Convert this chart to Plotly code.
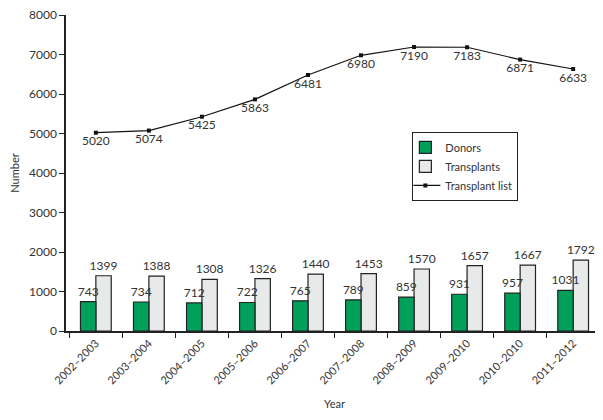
import plotly.graph_objects as go

years = ["2002–2003", "2003–2004", "2004–2005", "2005–2006", "2006–2007",
         "2007–2008", "2008–2009", "2009–2010", "2010–2010", "2011–2012"]
donors = [743, 734, 712, 722, 765, 789, 859, 931, 957, 1031]
transplants = [1399, 1388, 1308, 1326, 1440, 1453, 1570, 1657, 1667, 1792]
transplant_list = [5020, 5074, 5425, 5863, 6481, 6980, 7190, 7183, 6871, 6633]

font = "Lato, Open Sans, sans-serif"
fig = go.Figure()
fig.add_trace(go.Bar(x=years, y=transplants, name="Transplants", legendrank=2,
                     width=0.29, offset=0.0,
                     marker=dict(color="#e8e9e9", line=dict(color="#222", width=1.2)),
                     text=transplants, textposition="outside", cliponaxis=False, constraintext="none",
                     textfont=dict(size=12, color="#333")))
fig.add_trace(go.Bar(x=years, y=donors, name="Donors", legendrank=1,
                     width=0.29, offset=-0.29,
                     marker=dict(color="#00a05a", line=dict(color="#222", width=1.2)),
                     text=donors, textposition="outside", cliponaxis=False, constraintext="none",
                     textfont=dict(size=12, color="#333")))
fig.add_trace(go.Scatter(x=years, y=transplant_list, name="Transplant list", legendrank=3,
                         mode="lines+markers+text",
                         line=dict(color="#111", width=1.2), marker=dict(symbol="square", size=4, color="#111"),
                         text=transplant_list, textposition="bottom center", cliponaxis=False,
                         textfont=dict(size=12, color="#333")))
fig.update_layout(
    width=595, height=412, paper_bgcolor="white", plot_bgcolor="white",
    margin=dict(l=58, r=0, t=7, b=89, autoexpand=False),
    barmode="overlay",
    font=dict(family=font, size=12, color="#333"),
    legend=dict(x=0.645, y=0.63, xanchor="left", yanchor="top", bordercolor="#222", borderwidth=1,
                bgcolor="white", font=dict(size=11), tracegroupgap=0, itemwidth=30,
                indentation=-8),
    xaxis=dict(showline=True, linecolor="#222", linewidth=1.5, ticks="outside", tickson="boundaries",
               ticklen=5, tickcolor="#222", tickangle=-45, tickfont=dict(size=11), automargin=False,
               title=dict(text="Year", font=dict(size=11))),
    yaxis=dict(range=[0, 8000], dtick=1000, showline=True, linecolor="#222", linewidth=1.5, ticks="outside",
               ticklen=5, tickcolor="#222", showgrid=False, zeroline=False, tickfont=dict(size=12), automargin=False,
               ticklabeloverflow="allow",
               title=dict(text="Number", font=dict(size=11))),
)
fig.write_html("out.html")
